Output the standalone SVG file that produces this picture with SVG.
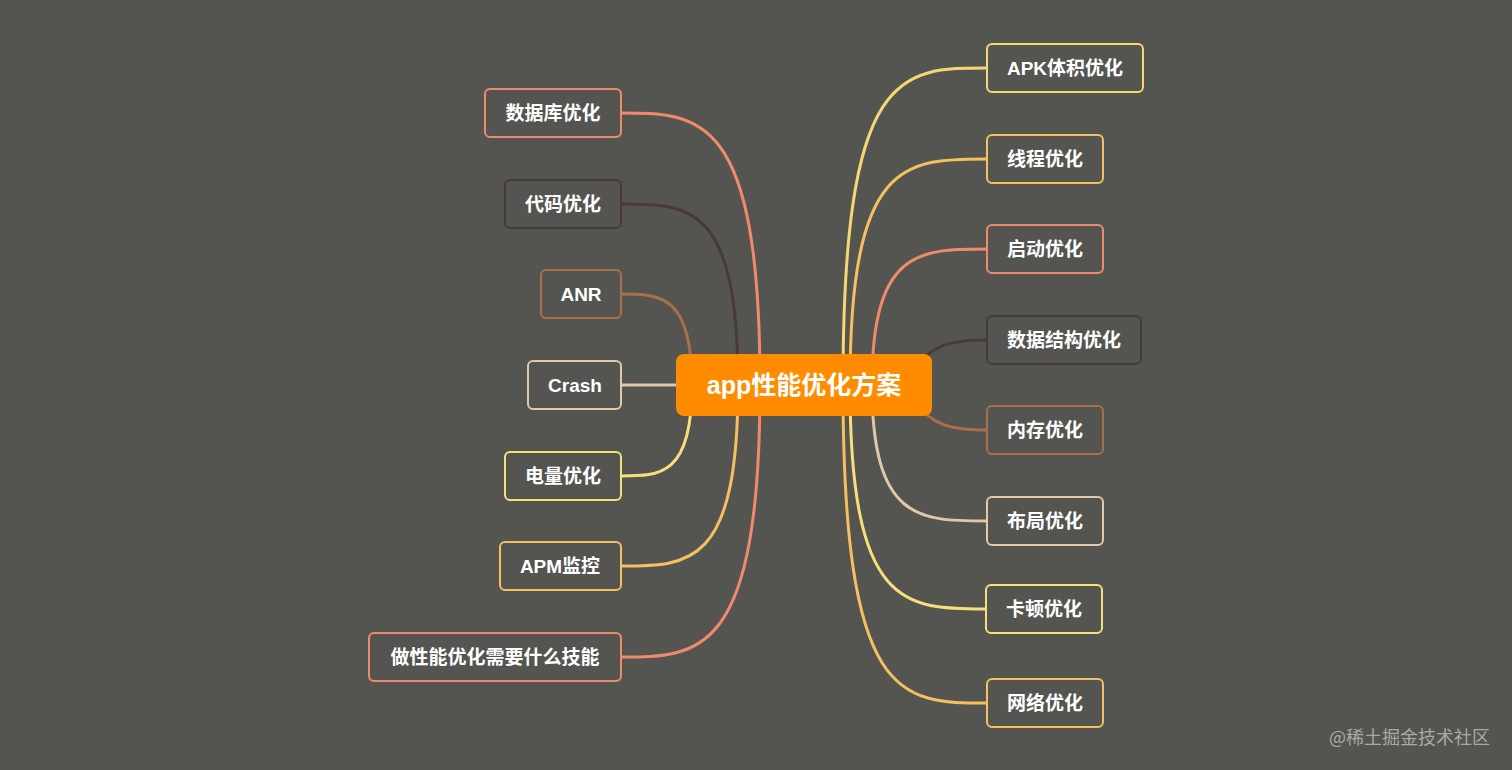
<svg xmlns="http://www.w3.org/2000/svg" width="1512" height="770" viewBox="0 0 1512 770">
<style>
.n rect{fill:#545551;stroke-width:2}
.n text{fill:#fff;font-family:"Liberation Sans","Noto Sans CJK SC",sans-serif;font-weight:bold;font-size:19px;text-anchor:middle;dominant-baseline:central}
#conn path{fill:none;stroke-width:3}
</style>
<rect width="1512" height="770" fill="#545551"/>
<g id="conn">
<path d="M760 385 C760 113 700 113 621 113" stroke="#F08A6A"/>
<path d="M738 385 C738 204 690 204 621 204" stroke="#4A3A36"/>
<path d="M692 385 C692 294 660 294 621 294" stroke="#A8704A"/>
<path d="M621 385 L700 385" stroke="#E0C8A8"/>
<path d="M692 385 C692 476 660 476 621 476" stroke="#F5E07A"/>
<path d="M738 385 C738 566 690 566 621 566" stroke="#F5C060"/>
<path d="M760 385 C760 657 700 657 621 657" stroke="#F08A6A"/>
<path d="M843 385 C843 68 900 68 987 68" stroke="#F5D870"/>
<path d="M850 385 C850 159 905 159 987 159" stroke="#F5C060"/>
<path d="M872 385 C872 249 920 249 987 249" stroke="#F08A6A"/>
<path d="M915 370 C930 345 950 340 987 340" stroke="#4A3A36"/>
<path d="M915 400 C930 425 950 430 987 430" stroke="#A8704A"/>
<path d="M872 385 C872 521 920 521 987 521" stroke="#E0C8A8"/>
<path d="M850 385 C850 609 905 609 986 609" stroke="#F5E07A"/>
<path d="M843 385 C843 703 900 703 987 703" stroke="#F5C060"/>
</g>
<g id="center"><rect x="676" y="354" width="256" height="62" rx="8" fill="#FF8C00"/><text x="804" y="385" fill="#fff" font-family="Liberation Sans,Noto Sans CJK SC,sans-serif" font-weight="bold" font-size="25" text-anchor="middle" dominant-baseline="central">app性能优化方案</text></g>
<g id="l1" class="n"><rect x="485" y="89" width="136" height="48" rx="5" stroke="#F08A6A"/><text x="553" y="113">数据库优化</text></g>
<g id="l2" class="n"><rect x="505" y="180" width="116" height="48" rx="5" stroke="#4A3A36"/><text x="563" y="204">代码优化</text></g>
<g id="l3" class="n"><rect x="541" y="270" width="80" height="48" rx="5" stroke="#A8704A"/><text x="581" y="294">ANR</text></g>
<g id="l4" class="n"><rect x="528" y="361" width="93" height="48" rx="5" stroke="#E0C8A8"/><text x="575" y="385">Crash</text></g>
<g id="l5" class="n"><rect x="505" y="452" width="116" height="48" rx="5" stroke="#F5E07A"/><text x="563" y="476">电量优化</text></g>
<g id="l6" class="n"><rect x="500" y="542" width="121" height="48" rx="5" stroke="#F5C060"/><text x="560" y="566">APM监控</text></g>
<g id="l7" class="n"><rect x="369" y="633" width="252" height="48" rx="5" stroke="#F08A6A"/><text x="495" y="657">做性能优化需要什么技能</text></g>
<g id="r1" class="n"><rect x="987" y="44" width="156" height="48" rx="5" stroke="#F5D870"/><text x="1065" y="68">APK体积优化</text></g>
<g id="r2" class="n"><rect x="987" y="135" width="116" height="48" rx="5" stroke="#F5C060"/><text x="1045" y="159">线程优化</text></g>
<g id="r3" class="n"><rect x="987" y="225" width="116" height="48" rx="5" stroke="#F08A6A"/><text x="1045" y="249">启动优化</text></g>
<g id="r4" class="n"><rect x="987" y="316" width="154" height="48" rx="5" stroke="#4A3A36"/><text x="1064" y="340">数据结构优化</text></g>
<g id="r5" class="n"><rect x="987" y="406" width="116" height="48" rx="5" stroke="#A8704A"/><text x="1045" y="430">内存优化</text></g>
<g id="r6" class="n"><rect x="987" y="497" width="116" height="48" rx="5" stroke="#E0C8A8"/><text x="1045" y="521">布局优化</text></g>
<g id="r7" class="n"><rect x="986" y="585" width="116" height="48" rx="5" stroke="#F5E07A"/><text x="1044" y="609">卡顿优化</text></g>
<g id="r8" class="n"><rect x="987" y="679" width="116" height="48" rx="5" stroke="#F5C060"/><text x="1045" y="703">网络优化</text></g>
<text x="1490" y="744" fill="#A9AAA6" font-family="Noto Sans CJK SC,sans-serif" font-size="18" text-anchor="end">@稀土掘金技术社区</text>
</svg>
